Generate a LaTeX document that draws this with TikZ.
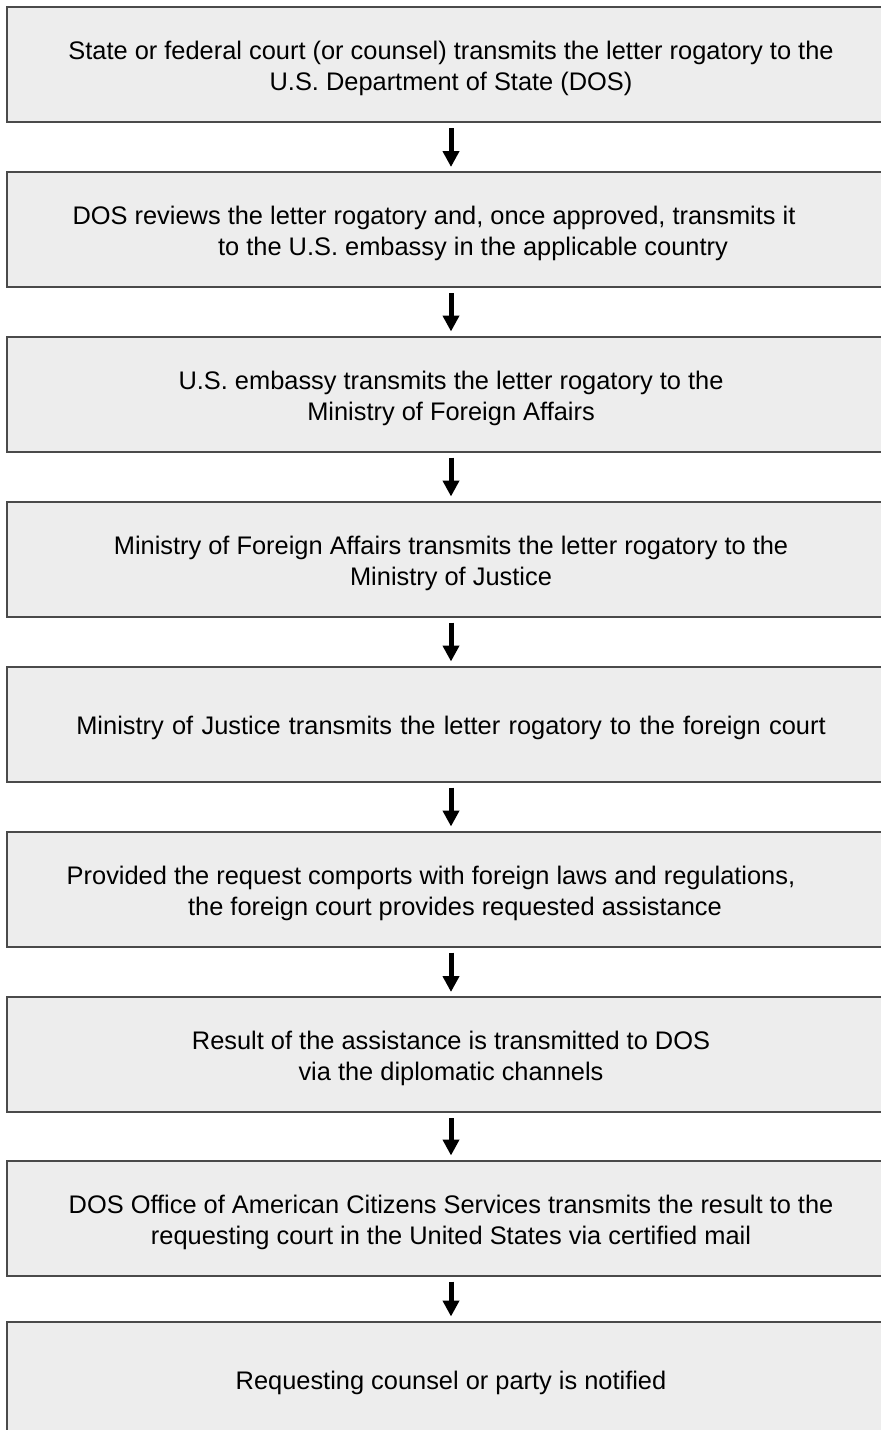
\documentclass[tikz,border=0pt]{standalone}
\usepackage{fontspec}
\setmainfont{Liberation Sans}
\usetikzlibrary{arrows.meta}

\definecolor{boxgray}{HTML}{4A4A4A}
\definecolor{boxfill}{HTML}{EDEDED}

\begin{document}
\begin{tikzpicture}[x=1pt,y=-1pt]
	\tikzset{
		stepnode/.style={rectangle, draw=boxgray, line width=2pt, fill=boxfill, minimum width=888pt, minimum height=115pt, inner sep=0pt, align=center, font=\fontsize{25.4}{31}\selectfont, text height=27pt},
		twolines/.style={text height=58pt},
		myarrow/.style={-{Triangle[length=16pt,width=16pt]}, line width=5pt, shorten <=5pt, shorten >=4pt}
	}

	\useasboundingbox (0,0) rectangle (881,1430);

	\node[stepnode,twolines] (s1) at (451,64.5) {State or federal court (or counsel) transmits the letter rogatory to the\\U.S. Department of State (DOS)};
	\node[stepnode,twolines] (s2) at (451,229.5) {DOS reviews the letter rogatory and, once approved, transmits it\hspace*{34pt}\\\hspace*{44pt}to the U.S. embassy in the applicable country};
	\node[stepnode,twolines] (s3) at (451,394) {U.S. embassy transmits the letter rogatory to the\\Ministry of Foreign Affairs};
	\node[stepnode,twolines] (s4) at (451,559) {Ministry of Foreign Affairs transmits the letter rogatory to the\\Ministry of Justice};
	\node[stepnode] (s5) at (451,724) {\spaceskip=8.3pt\relax Ministry of Justice transmits the letter rogatory to the foreign court};
	\node[stepnode,twolines] (s6) at (451,889) {Provided the request comports with foreign laws and regulations,\hspace*{40pt}\\\hspace*{8pt}the foreign court provides requested assistance};
	\node[stepnode,twolines] (s7) at (451,1054.5) {Result of the assistance is transmitted to DOS\\via the diplomatic channels};
	\node[stepnode,twolines] (s8) at (451,1218) {DOS Office of American Citizens Services transmits the result to the\\requesting court in the United States via certified mail};
	\node[stepnode] (s9) at (451,1379) {Requesting counsel or party is notified};

	\foreach \a/\b in {s1/s2, s2/s3, s3/s4, s4/s5, s5/s6, s6/s7, s7/s8, s8/s9} {
		\draw[myarrow] (\a.south) -- (\b.north);
	}
\end{tikzpicture}
\end{document}
